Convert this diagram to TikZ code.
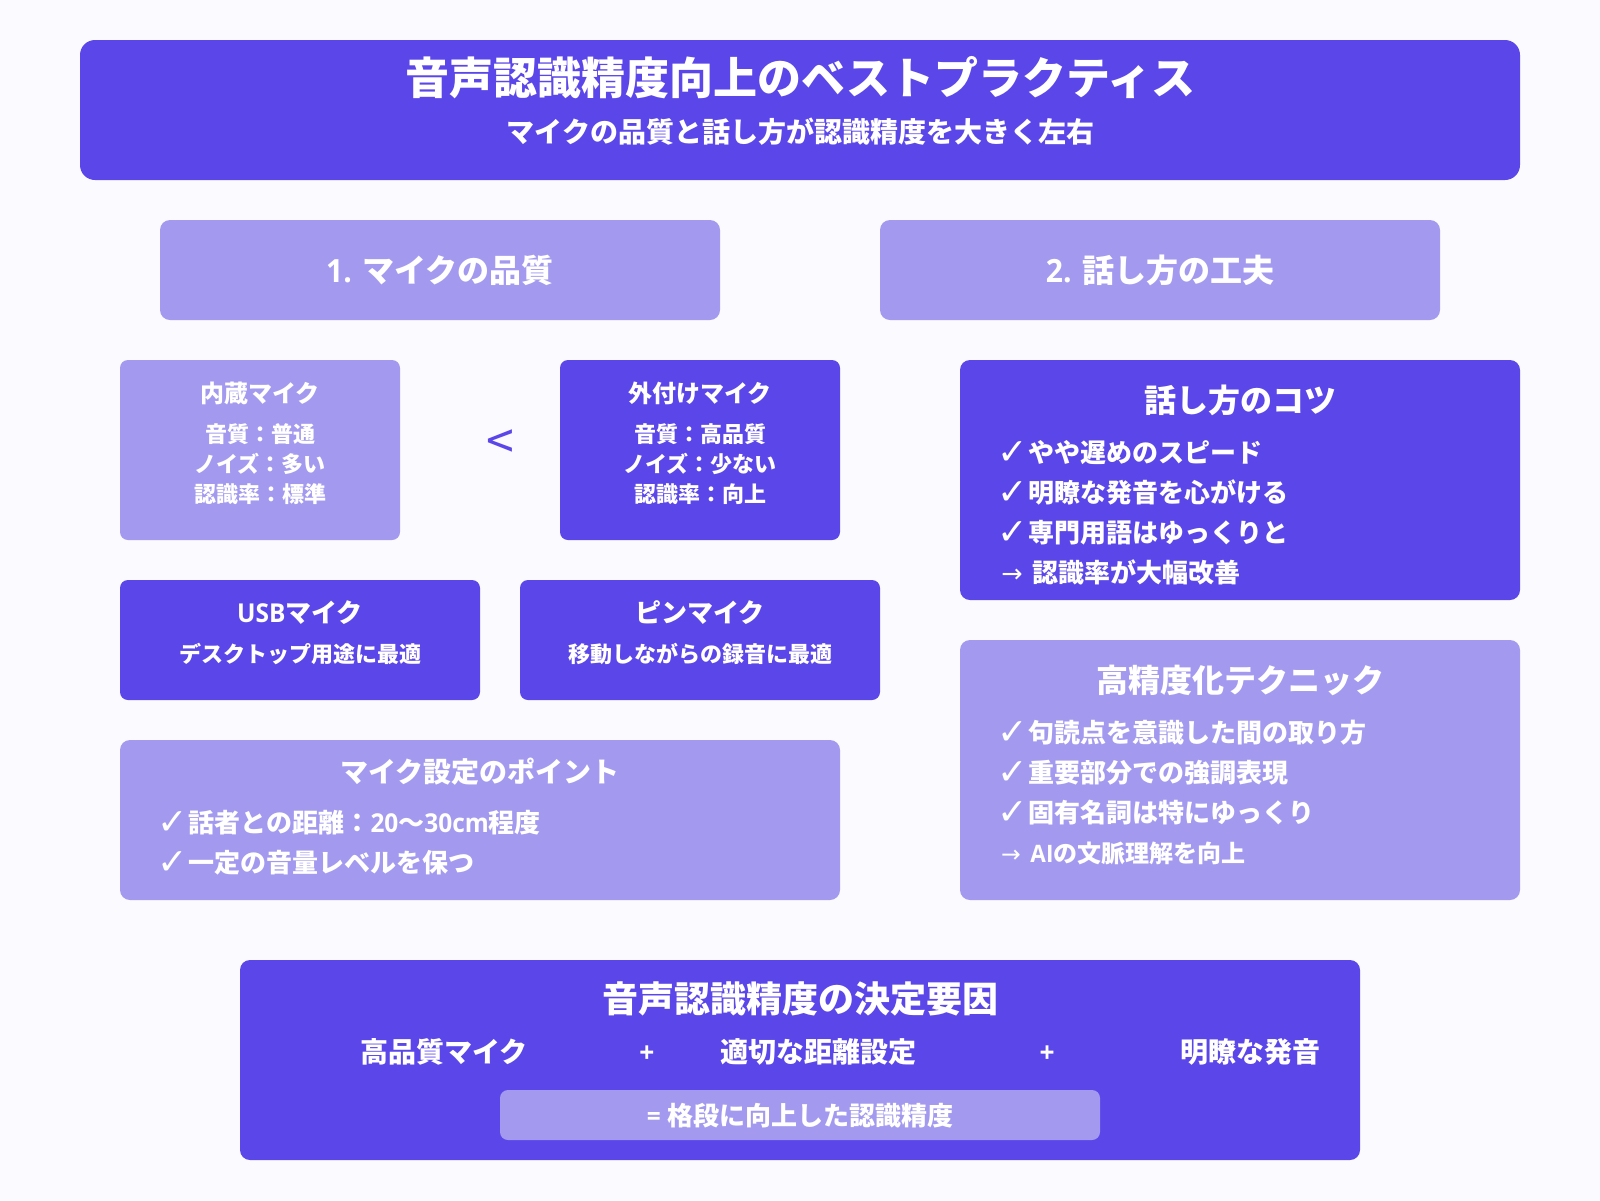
\documentclass[tikz,border=0pt]{standalone}
\usepackage{fontspec}
\setmainfont{Noto Sans CJK JP}
\newfontfamily\symfont{DejaVu Sans}
\newfontfamily\latfont[FakeStretch=0.94]{Open Sans}
\definecolor{deep}{HTML}{5B46E9}
\definecolor{soft}{HTML}{A39AEF}
\definecolor{paper}{HTML}{FAFAFF}
\newcommand{\lat}[1]{{\latfont #1}}
\newcommand{\chk}{\makebox[1.1em][l]{\hspace{-.12em}\raisebox{-.08em}{\scalebox{1.4}{\symfont\char"2713}}}}
\newcommand{\arr}{\makebox[1.26em][l]{\hspace{.04em}\scalebox{.98}{\symfont\mdseries\char"2192}}}
\tikzset{
  box/.style={inner sep=0pt,rounded corners=#1},
  deepbox/.style={box=10pt,fill=deep},
  softbox/.style={box=10pt,fill=soft},
  size/.style 2 args={minimum width=#1pt,minimum height=#2pt},
  lbl/.style={text=white,inner sep=0pt,anchor=base,font=\fontsize{#1pt}{#1pt}\selectfont\bfseries},
  lft/.style={lbl=#1,anchor=base west}
}

\begin{document}
\begin{tikzpicture}[x=1pt,y=-1pt]
\useasboundingbox (0,0) rectangle (1600,1200);
\fill[paper] (0,0) rectangle (1600,1200);

\node[deepbox,box=15pt,size={1440}{140}] (head) at (800,110) {};
\node[lbl=44] (headtitle) at (800.5,94) {音声認識精度向上のベストプラクティス};
\node[lbl=28] (headsub) at (800.5,142) {マイクの品質と話し方が認識精度を大きく左右};

\node[softbox,size={560}{100}] (sec1) at (440,270) {};
\node[softbox,size={560}{100}] (sec2) at (1160,270) {};
\node[lbl=32] (sec1txt) at (440,282) {\lat{1. }マイクの品質};
\node[lbl=32] (sec2txt) at (1160,282) {\lat{2. }話し方の工夫};

\node[softbox,box=8pt,size={280}{180}] (inner) at (260,450) {};
\node[deepbox,box=8pt,size={280}{180}] (outer) at (700,450) {};
\node[lbl=24] (innertitle) at (260,402) {内蔵マイク};
\node[lbl=24] (outertitle) at (700,402) {外付けマイク};
\foreach \ypos/\ltxt/\rtxt in {442/音質：普通/音質：高品質,472/ノイズ：多い/ノイズ：少ない,502/認識率：標準/認識率：向上}{
  \node[lbl=22] (inner\ypos) at (260,\ypos) {\ltxt};
  \node[lbl=22] (outer\ypos) at (700,\ypos) {\rtxt};
}
\node[lbl=50,text=deep,font=\fontsize{50pt}{50pt}\selectfont] (less) at (500.5,459) {<};

\node[deepbox,box=8pt,size={360}{120}] (usb) at (300,640) {};
\node[deepbox,box=8pt,size={360}{120}] (pin) at (700,640) {};
\node[lbl=26] (usbtitle) at (300,622) {\lat{USB}マイク};
\node[lbl=26] (pintitle) at (700,622) {ピンマイク};
\node[lbl=22] (usbtxt) at (300,662) {デスクトップ用途に最適};
\node[lbl=22] (pintxt) at (700,662) {移動しながらの録音に最適};

\node[softbox,size={720}{160}] (setting) at (480,820) {};
\node[lbl=28] (settitle) at (480,782) {マイク設定のポイント};
\node[lft=26] (set1) at (160,832) {\chk 話者との距離：\lat{20}〜\lat{30cm}程度};
\node[lft=26] (set2) at (160,872) {\chk 一定の音量レベルを保つ};

\node[deepbox,size={560}{240}] (tips) at (1240,480) {};
\node[lbl=32] (tipstitle) at (1240,412) {話し方のコツ};
\node[lft=26] (tips1) at (1000,462) {\chk やや遅めのスピード};
\node[lft=26] (tips2) at (1000,502) {\chk 明瞭な発音を心がける};
\node[lft=26] (tips3) at (1000,542) {\chk 専門用語はゆっくりと};
\node[lft=26] (tips4) at (1000,582) {\arr 認識率が大幅改善};

\node[softbox,size={560}{260}] (tech) at (1240,770) {};
\node[lbl=32] (techtitle) at (1240,692) {高精度化テクニック};
\node[lft=26] (tech1) at (1000,742) {\chk 句読点を意識した間の取り方};
\node[lft=26] (tech2) at (1000,782) {\chk 重要部分での強調表現};
\node[lft=26] (tech3) at (1000,822) {\chk 固有名詞は特にゆっくり};
\node[lft=24] (tech4) at (1000,862) {\arr \lat{AI}の文脈理解を向上};

\node[deepbox,size={1120}{200}] (factor) at (800,1060) {};
\node[lbl=36] (factitle) at (800,1012) {音声認識精度の決定要因};
\node[lbl=28] (fac1) at (444,1062) {高品質マイク};
\node[lbl=28] (plus1) at (647,1062) {\lat{+}};
\node[lbl=28] (fac2) at (818,1062) {適切な距離設定};
\node[lbl=28] (plus2) at (1047,1062) {\lat{+}};
\node[lbl=28] (fac3) at (1250,1062) {明瞭な発音};
\node[softbox,box=8pt,size={600}{50}] (result) at (800,1115) {};
\node[lbl=26] (restxt) at (800,1125) {\lat{= }格段に向上した認識精度};
\end{tikzpicture}
\end{document}
